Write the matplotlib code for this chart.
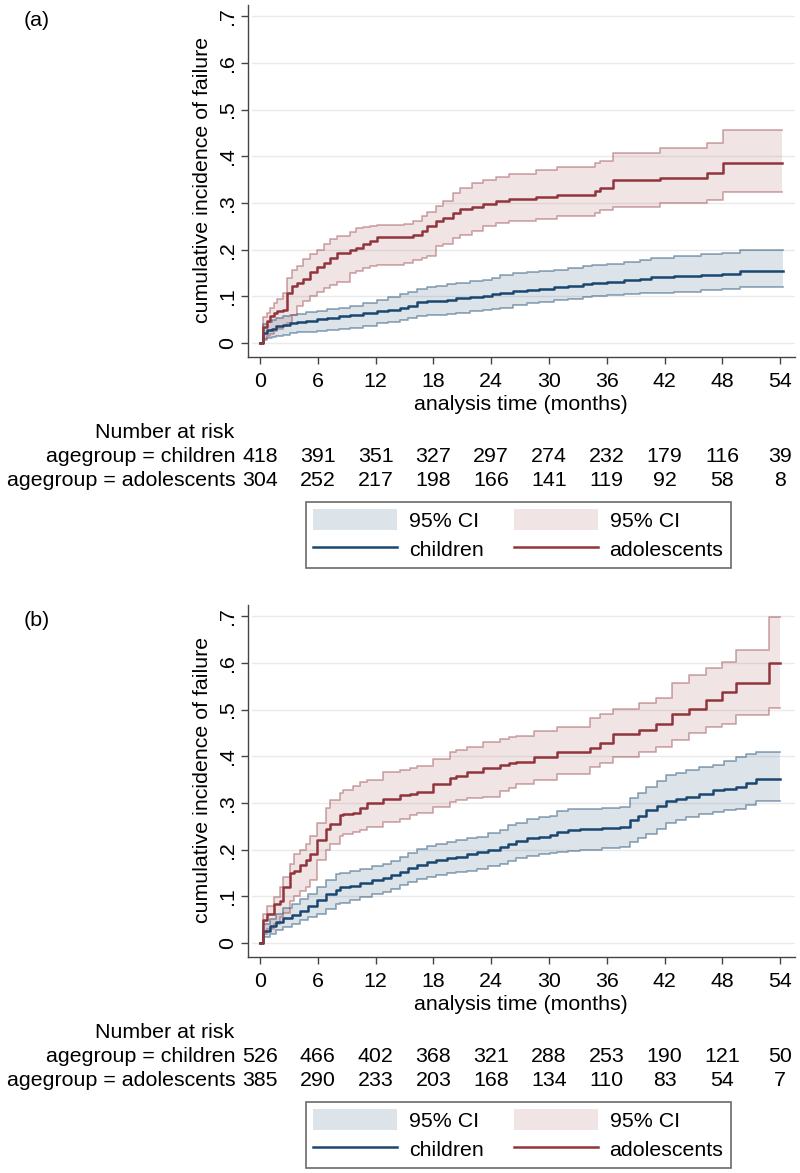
import matplotlib
matplotlib.use('Agg')
import matplotlib.pyplot as plt
from matplotlib.patches import Patch
from matplotlib.lines import Line2D
import matplotlib.transforms as mtransforms

plt.rcParams['font.family'] = ['Liberation Sans', 'DejaVu Sans']

# axis ticks
xticks = [0, 6, 12, 18, 24, 30, 36, 42, 48, 54]
yticks = [0, 0.1, 0.2, 0.3, 0.4, 0.5, 0.6, 0.7]
ytick_labels = ['0', '.1', '.2', '.3', '.4', '.5', '.6', '.7']

# ---- panel (a) ----
a_child_t = [0, 0.3, 0.7, 1.2, 1.7, 2.4, 3.1, 3.8, 4.8, 5.9, 7.0, 8.2, 9.3, 10.7, 12.1, 13.3, 14.5, 15.4,
             16.3, 17.3, 18.3, 19.4, 20.4, 21.8, 23.2, 24.1, 24.9, 26.3, 27.7, 29.0, 30.5, 32.0, 33.5,
             34.5, 36.0, 37.8, 39.5, 40.6, 43.0, 45.8, 48.0, 49.8, 54.3]
a_child_est = [0, 0.022, 0.027, 0.031, 0.036, 0.039, 0.043, 0.046, 0.048, 0.051, 0.054, 0.058, 0.061,
               0.064, 0.068, 0.071, 0.076, 0.08, 0.087, 0.089, 0.09, 0.093, 0.096, 0.098, 0.101, 0.104,
               0.108, 0.111, 0.114, 0.116, 0.119, 0.123, 0.126, 0.128, 0.131, 0.135, 0.138, 0.141,
               0.143, 0.146, 0.148, 0.154, 0.154]
a_child_hi = [0, 0.04, 0.045, 0.05, 0.054, 0.057, 0.06, 0.063, 0.066, 0.068, 0.072, 0.076, 0.08, 0.086,
              0.093, 0.099, 0.105, 0.11, 0.116, 0.119, 0.122, 0.126, 0.129, 0.132, 0.136, 0.14, 0.145,
              0.149, 0.152, 0.154, 0.157, 0.161, 0.165, 0.167, 0.17, 0.174, 0.178, 0.183, 0.186, 0.19,
              0.193, 0.2, 0.2]
a_child_lo = [0, 0.008, 0.011, 0.013, 0.016, 0.018, 0.021, 0.023, 0.024, 0.026, 0.028, 0.03, 0.033,
              0.037, 0.043, 0.046, 0.05, 0.053, 0.057, 0.059, 0.061, 0.063, 0.065, 0.068, 0.071, 0.073,
              0.076, 0.081, 0.085, 0.087, 0.092, 0.095, 0.098, 0.1, 0.103, 0.106, 0.107, 0.108, 0.11,
              0.113, 0.115, 0.119, 0.119]

a_adol_t = [0, 0.3, 0.7, 1.0, 1.4, 1.8, 2.4, 2.8, 3.3, 3.8, 4.5, 5.2, 5.9, 6.6, 7.3, 8.0, 9.3, 10.0,
            10.7, 11.4, 12.1, 14.9, 15.9, 16.8, 17.3, 18.3, 19.0, 20.0, 20.8, 22.0, 23.2, 24.5, 25.9,
            28.7, 30.8, 34.8, 35.3, 36.6, 41.5, 46.4, 48.1, 54.2]
a_adol_est = [0, 0.035, 0.048, 0.058, 0.064, 0.068, 0.071, 0.107, 0.122, 0.129, 0.138, 0.152, 0.162,
              0.171, 0.182, 0.193, 0.2, 0.204, 0.211, 0.218, 0.226, 0.227, 0.232, 0.24, 0.25, 0.262,
              0.268, 0.278, 0.287, 0.292, 0.297, 0.304, 0.308, 0.313, 0.318, 0.325, 0.332, 0.349,
              0.354, 0.364, 0.385, 0.385]
a_adol_hi = [0, 0.055, 0.064, 0.075, 0.086, 0.095, 0.107, 0.14, 0.157, 0.165, 0.179, 0.19, 0.2, 0.212,
             0.222, 0.229, 0.238, 0.246, 0.248, 0.25, 0.252, 0.254, 0.262, 0.271, 0.28, 0.293, 0.305,
             0.322, 0.333, 0.343, 0.35, 0.356, 0.361, 0.371, 0.377, 0.385, 0.39, 0.407, 0.417, 0.428,
             0.456, 0.456]
a_adol_lo = [0, 0.007, 0.015, 0.02, 0.025, 0.03, 0.036, 0.043, 0.06, 0.079, 0.09, 0.1, 0.11, 0.117,
             0.124, 0.13, 0.15, 0.155, 0.16, 0.164, 0.167, 0.171, 0.178, 0.183, 0.186, 0.207, 0.212,
             0.225, 0.232, 0.24, 0.25, 0.256, 0.261, 0.266, 0.271, 0.278, 0.284, 0.292, 0.299, 0.307,
             0.324, 0.324]

a_risk_children = [418, 391, 351, 327, 297, 274, 232, 179, 116, 39]
a_risk_adolescents = [304, 252, 217, 198, 166, 141, 119, 92, 58, 8]

# ---- panel (b) ----
b_child_t = [0, 0.35, 1.0, 1.7, 2.4, 3.3, 4.2, 5.0, 5.9, 6.9, 7.9, 8.3, 9.3, 10.4, 11.6, 12.8, 13.6,
             14.5, 15.4, 16.3, 17.3, 18.3, 19.4, 20.4, 21.5, 22.5, 23.7, 24.9, 25.8, 26.6, 27.7, 29.0,
             30.1, 30.8, 32.0, 33.2, 35.5, 37.4, 38.4, 39.2, 40.1, 41.2, 42.2, 43.2, 44.2, 45.6, 47.0,
             48.2, 49.4, 50.5, 51.5, 54.0]
b_child_est = [0, 0.025, 0.036, 0.045, 0.053, 0.06, 0.068, 0.08, 0.093, 0.106, 0.114, 0.119, 0.123,
               0.129, 0.134, 0.14, 0.146, 0.153, 0.161, 0.168, 0.174, 0.178, 0.182, 0.185, 0.19, 0.195,
               0.2, 0.206, 0.212, 0.218, 0.224, 0.228, 0.232, 0.237, 0.242, 0.245, 0.246, 0.248, 0.263,
               0.272, 0.284, 0.294, 0.305, 0.309, 0.313, 0.32, 0.327, 0.33, 0.334, 0.343, 0.352, 0.352]
b_child_hi = [0, 0.04, 0.052, 0.062, 0.075, 0.084, 0.094, 0.106, 0.12, 0.135, 0.147, 0.15, 0.155, 0.159,
              0.164, 0.17, 0.176, 0.184, 0.193, 0.202, 0.208, 0.213, 0.217, 0.22, 0.224, 0.228, 0.236,
              0.243, 0.252, 0.258, 0.265, 0.269, 0.273, 0.282, 0.286, 0.288, 0.289, 0.291, 0.31, 0.322,
              0.334, 0.347, 0.359, 0.365, 0.37, 0.376, 0.381, 0.39, 0.399, 0.404, 0.409, 0.409]
b_child_lo = [0, 0.012, 0.02, 0.027, 0.034, 0.041, 0.049, 0.056, 0.063, 0.073, 0.083, 0.086, 0.093,
              0.099, 0.104, 0.109, 0.116, 0.124, 0.131, 0.138, 0.142, 0.145, 0.149, 0.152, 0.155, 0.159,
              0.164, 0.17, 0.175, 0.181, 0.186, 0.19, 0.193, 0.195, 0.198, 0.2, 0.204, 0.206, 0.216,
              0.225, 0.234, 0.245, 0.256, 0.263, 0.27, 0.276, 0.281, 0.285, 0.288, 0.296, 0.304, 0.304]

b_adol_t = [0, 0.35, 0.7, 1.4, 2.1, 2.4, 3.1, 3.5, 4.2, 4.8, 5.2, 5.9, 6.9, 7.3, 8.3, 8.65, 9.7, 10.4,
            11.1, 12.8, 14.5, 15.6, 16.3, 18.0, 19.7, 20.4, 21.5, 23.2, 24.9, 25.9, 26.6, 28.4, 30.8,
            34.3, 35.3, 36.6, 39.4, 41.1, 42.8, 44.5, 46.3, 48.0, 49.4, 52.9, 54.0]
b_adol_est = [0, 0.049, 0.062, 0.084, 0.091, 0.12, 0.149, 0.155, 0.166, 0.178, 0.191, 0.22, 0.245,
              0.255, 0.274, 0.276, 0.279, 0.29, 0.299, 0.309, 0.316, 0.32, 0.324, 0.341, 0.354, 0.358,
              0.366, 0.374, 0.381, 0.386, 0.388, 0.399, 0.409, 0.418, 0.428, 0.448, 0.456, 0.47, 0.491,
              0.502, 0.52, 0.538, 0.557, 0.599, 0.599]
b_adol_hi = [0, 0.063, 0.08, 0.099, 0.12, 0.141, 0.17, 0.191, 0.2, 0.213, 0.23, 0.256, 0.29, 0.306,
             0.322, 0.327, 0.336, 0.345, 0.35, 0.366, 0.37, 0.374, 0.38, 0.395, 0.41, 0.413, 0.42,
             0.431, 0.437, 0.441, 0.444, 0.455, 0.463, 0.481, 0.49, 0.502, 0.515, 0.525, 0.556, 0.574,
             0.59, 0.602, 0.627, 0.698, 0.698]
b_adol_lo = [0, 0.02, 0.03, 0.041, 0.056, 0.065, 0.091, 0.1, 0.112, 0.12, 0.135, 0.177, 0.2, 0.213,
             0.23, 0.234, 0.238, 0.241, 0.248, 0.259, 0.266, 0.274, 0.279, 0.291, 0.302, 0.306, 0.31,
             0.313, 0.325, 0.331, 0.34, 0.349, 0.362, 0.377, 0.385, 0.399, 0.409, 0.42, 0.434, 0.449,
             0.462, 0.47, 0.488, 0.504, 0.504]

b_risk_children = [526, 466, 402, 368, 321, 288, 253, 190, 121, 50]
b_risk_adolescents = [385, 290, 233, 203, 168, 134, 110, 83, 54, 7]

NAVY = '#1a476f'
MAROON = '#90353b'
FS = 15.4
W, H = 800, 1173

fig = plt.figure(figsize=(W / 100, H / 100), dpi=100)


def fy(py):
    # pixel row -> figure fraction
    return 1 - py / H


def draw_panel(top_px, tag, child, adol, risk_c, risk_a):
    ax = fig.add_axes([248 / W, fy(top_px + 352), (795 - 248) / W, 352 / H])
    ax.set_xlim(-1.25, 55.55)
    ax.set_ylim(-0.03, 0.724)

    for y in yticks:
        ax.axhline(y, xmin=0.008, color='#eaeaea', lw=1, zorder=0)

    for (t, est, lo, hi), col, a_fill, a_edge in [(child, NAVY, 0.15, 0.45), (adol, MAROON, 0.13, 0.4)]:
        ax.fill_between(t, lo, hi, step='post', color=col, alpha=a_fill, lw=0, zorder=1)
        ax.step(t, lo, where='post', color=col, alpha=a_edge, lw=1.3, zorder=2)
        ax.step(t, hi, where='post', color=col, alpha=a_edge, lw=1.3, zorder=2)
    ax.step(child[0], child[1], where='post', color=NAVY, lw=1.8, zorder=3)
    ax.step(adol[0], adol[1], where='post', color=MAROON, lw=1.8, zorder=3)

    ax.spines['top'].set_visible(False)
    ax.spines['right'].set_visible(False)
    for s in ['left', 'bottom']:
        ax.spines[s].set_color('#444444')
        ax.spines[s].set_linewidth(1.0)

    ax.set_xticks(xticks)
    ax.set_yticks(yticks)
    ax.set_yticklabels(ytick_labels, rotation=90, va='center')
    ax.tick_params(axis='both', direction='out', length=5, width=1, color='#444444', labelsize=FS)
    ax.tick_params(axis='x', pad=6)
    ax.tick_params(axis='y', pad=3)

    fig.text(202 / W, fy(top_px + 175), 'cumulative incidence of failure', rotation=90,
             ha='center', va='center', fontsize=FS)
    fig.text(521 / W, fy(top_px + 399), 'analysis time (months)', ha='center', va='center', fontsize=FS)
    fig.text(37 / W, fy(top_px + 15), tag, ha='center', va='center', fontsize=FS)

    # number at risk table
    fig.text(234 / W, fy(top_px + 427), 'Number at risk', ha='right', va='center', fontsize=FS)
    fig.text(236 / W, fy(top_px + 452), 'agegroup = children', ha='right', va='center', fontsize=FS)
    fig.text(236 / W, fy(top_px + 476), 'agegroup = adolescents', ha='right', va='center', fontsize=FS)
    tr = mtransforms.blended_transform_factory(ax.transData, fig.transFigure)
    for x, n in zip(xticks, risk_c):
        ax.text(x, fy(top_px + 452), str(n), transform=tr, ha='center', va='center', fontsize=FS,
                clip_on=False)
    for x, n in zip(xticks, risk_a):
        ax.text(x, fy(top_px + 476), str(n), transform=tr, ha='center', va='center', fontsize=FS,
                clip_on=False)

    handles = [Patch(facecolor=NAVY, alpha=0.15, edgecolor='none'),
               Line2D([], [], color=NAVY, lw=1.8),
               Patch(facecolor=MAROON, alpha=0.13, edgecolor='none'),
               Line2D([], [], color=MAROON, lw=1.8)]
    labels = ['95% CI', 'children', '95% CI', 'adolescents']
    leg = ax.legend(handles, labels, ncol=2, loc='upper left',
                    bbox_to_anchor=(306 / W, fy(top_px + 497)), bbox_transform=fig.transFigure,
                    fontsize=FS, frameon=True, fancybox=False, handlelength=3.9, handleheight=1.1,
                    handletextpad=0.55, columnspacing=1.45, borderpad=0.35, labelspacing=0.35,
                    borderaxespad=0)
    leg.get_frame().set_edgecolor('#444444')
    leg.get_frame().set_linewidth(1.2)
    return ax


draw_panel(5, '(a)', (a_child_t, a_child_est, a_child_lo, a_child_hi),
           (a_adol_t, a_adol_est, a_adol_lo, a_adol_hi), a_risk_children, a_risk_adolescents)
draw_panel(605, '(b)', (b_child_t, b_child_est, b_child_lo, b_child_hi),
           (b_adol_t, b_adol_est, b_adol_lo, b_adol_hi), b_risk_children, b_risk_adolescents)

fig.savefig('out.png', dpi=100, facecolor='white')
